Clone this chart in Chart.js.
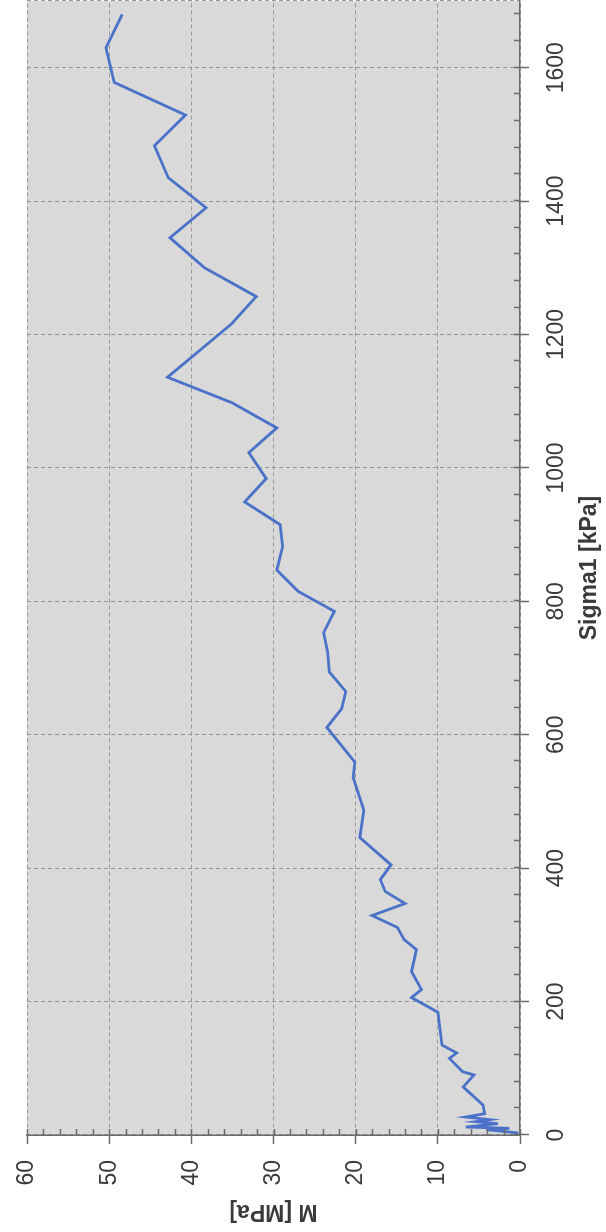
<!DOCTYPE html>
<html lang="en">
<head>
    <meta charset="UTF-8">
    <title>M vs Sigma1</title>
    <script src="https://cdn.jsdelivr.net/npm/chart.js"></script>
    <style>
        html, body {
            margin: 0;
            padding: 0;
            background: #fff;
            overflow: hidden;
        }
        #page {
            position: relative;
            width: 606px;
            height: 1232px;
        }
        /* the chart is drawn landscape and turned a quarter turn, like the scanned page */
        #turned {
            position: absolute;
            left: 0;
            top: 0;
            width: 1232px;
            height: 606px;
            transform-origin: 0 0;
            transform: translateY(1232px) rotate(-90deg);
        }
    </style>
</head>
<body>
    <div id="page">
        <div id="turned">
            <canvas id="myChart" width="1232" height="606"></canvas>
        </div>
    </div>
    <script>
        // Sigma1 [kPa] and M [MPa]
        const sigma1 = [3, 8, 10, 12, 17, 20, 23, 27, 32, 45, 72, 90, 95, 115, 123, 135,
            184, 206, 218, 245, 278, 293, 311, 329, 347, 365, 383, 405, 446, 487, 536, 559,
            611, 639, 665, 694, 724, 753, 785, 815, 847, 882, 915, 949, 984, 1023, 1060, 1098,
            1136, 1216, 1257, 1300, 1345, 1390, 1435, 1483, 1529, 1578, 1630, 1680];
        const mValues = [0.2, 4.1, 1.3, 6.6, 2.7, 5.4, 3.7, 6.6, 4.3, 4.5, 6.9, 5.6, 7.0, 8.6, 7.7, 9.5,
            10.0, 13.2, 12.0, 13.2, 12.6, 14.1, 14.9, 18.0, 14.0, 16.4, 17.0, 15.7, 19.5, 19.0, 20.3, 20.1,
            23.5, 21.7, 21.2, 23.2, 23.4, 23.9, 22.6, 27.0, 29.6, 28.9, 29.2, 33.5, 30.9, 33.0, 29.6, 35.1,
            42.9, 35.1, 32.1, 38.4, 42.6, 38.2, 42.8, 44.5, 40.7, 49.4, 50.4, 48.4];

        const sigmaTicks = [0, 200, 400, 600, 800, 1000, 1200, 1400, 1600];
        const mTicks = [0, 10, 20, 30, 40, 50, 60];
        const sigmaMax = 1700;
        const sigmaMinorStep = 40;
        const mMinorStep = 2;

        const axisGray = '#6b6b6b';
        const tickFont = { family: 'Liberation Sans', size: 23 };
        const titleFont = { family: 'Liberation Sans', size: 23, weight: 'bold' };

        const points = sigma1.map((s, i) => ({ x: s, y: mValues[i] }));

        // grey plot area
        const plotBackground = {
            id: 'plotBackground',
            beforeDraw(chart) {
                const { ctx, chartArea: a } = chart;
                ctx.save();
                ctx.fillStyle = '#d9d9d9';
                ctx.fillRect(a.left, a.top, a.right - a.left, a.bottom - a.top);
                ctx.restore();
            }
        };

        // short inside tick marks (Excel minor ticks)
        const minorTicks = {
            id: 'minorTicks',
            afterDraw(chart) {
                const { ctx, chartArea: a, scales } = chart;
                ctx.save();
                ctx.strokeStyle = axisGray;
                ctx.lineWidth = 1.5;
                ctx.beginPath();
                for (let v = 0; v <= sigmaMax; v += sigmaMinorStep) {
                    const x = Math.round(scales.x.getPixelForValue(v)) + 0.5;
                    ctx.moveTo(x, a.bottom);
                    ctx.lineTo(x, a.bottom - 6);
                }
                for (let v = 0; v <= 60; v += mMinorStep) {
                    const y = Math.round(scales.y.getPixelForValue(v)) + 0.5;
                    ctx.moveTo(a.left, y);
                    ctx.lineTo(a.left + 6, y);
                }
                ctx.stroke();
                ctx.restore();
            }
        };

        const ctx = document.getElementById('myChart').getContext('2d');
        const myChart = new Chart(ctx, {
            type: 'line',
            data: {
                datasets: [{
                    label: 'M',
                    data: points,
                    borderColor: '#4a72c8',
                    borderWidth: 2.8,
                    pointRadius: 0,
                    tension: 0,
                    fill: false
                }]
            },
            options: {
                responsive: false,
                animation: false,
                devicePixelRatio: 1,
                layout: { padding: { top: 27, right: 1, left: 0, bottom: 0 } },
                plugins: {
                    legend: { display: false },
                    tooltip: { enabled: false }
                },
                scales: {
                    x: {
                        type: 'linear',
                        min: 0,
                        max: sigmaMax,
                        afterBuildTicks(scale) {
                            scale.ticks = sigmaTicks.concat([sigmaMax]).map(v => ({ value: v }));
                        },
                        afterFit(scale) {
                            scale.height = 86;
                            scale.paddingLeft = 0;
                            scale.paddingRight = 0;
                        },
                        ticks: {
                            font: tickFont,
                            color: '#3a3a3a',
                            padding: 14,
                            maxRotation: 0,
                            autoSkip: false,
                            callback: v => sigmaTicks.includes(v) ? String(v) : ''
                        },
                        grid: {
                            color: '#979797',
                            lineWidth: 1,
                            tickLength: 9,
                            tickWidth: 1.5,
                            tickBorderDash: [],
                            tickColor: c => (c.tick && c.tick.value > 1600) ? 'rgba(0,0,0,0)' : axisGray
                        },
                        border: { display: true, color: axisGray, width: 1.5, dash: [4, 3] },
                        title: {
                            display: true,
                            text: 'Sigma1 [kPa]',
                            font: titleFont,
                            color: '#3a3a3a',
                            padding: { top: 0, bottom: 3 }
                        }
                    },
                    y: {
                        type: 'linear',
                        min: 0,
                        max: 60,
                        afterBuildTicks(scale) {
                            scale.ticks = mTicks.map(v => ({ value: v }));
                        },
                        afterFit(scale) {
                            scale.width = 97;
                            scale.paddingTop = 0;
                            scale.paddingBottom = 0;
                        },
                        ticks: {
                            font: tickFont,
                            color: '#3a3a3a',
                            padding: 16
                        },
                        grid: {
                            color: '#979797',
                            lineWidth: 1,
                            tickLength: 9,
                            tickWidth: 1.5,
                            tickBorderDash: [],
                            tickColor: axisGray
                        },
                        border: { display: true, color: axisGray, width: 1.5, dash: [4, 3] },
                        title: {
                            display: true,
                            text: 'M [MPa]',
                            font: titleFont,
                            color: '#3a3a3a',
                            padding: { top: 7, bottom: 0 }
                        }
                    }
                }
            },
            plugins: [plotBackground, minorTicks]
        });
    </script>
</body>
</html>
